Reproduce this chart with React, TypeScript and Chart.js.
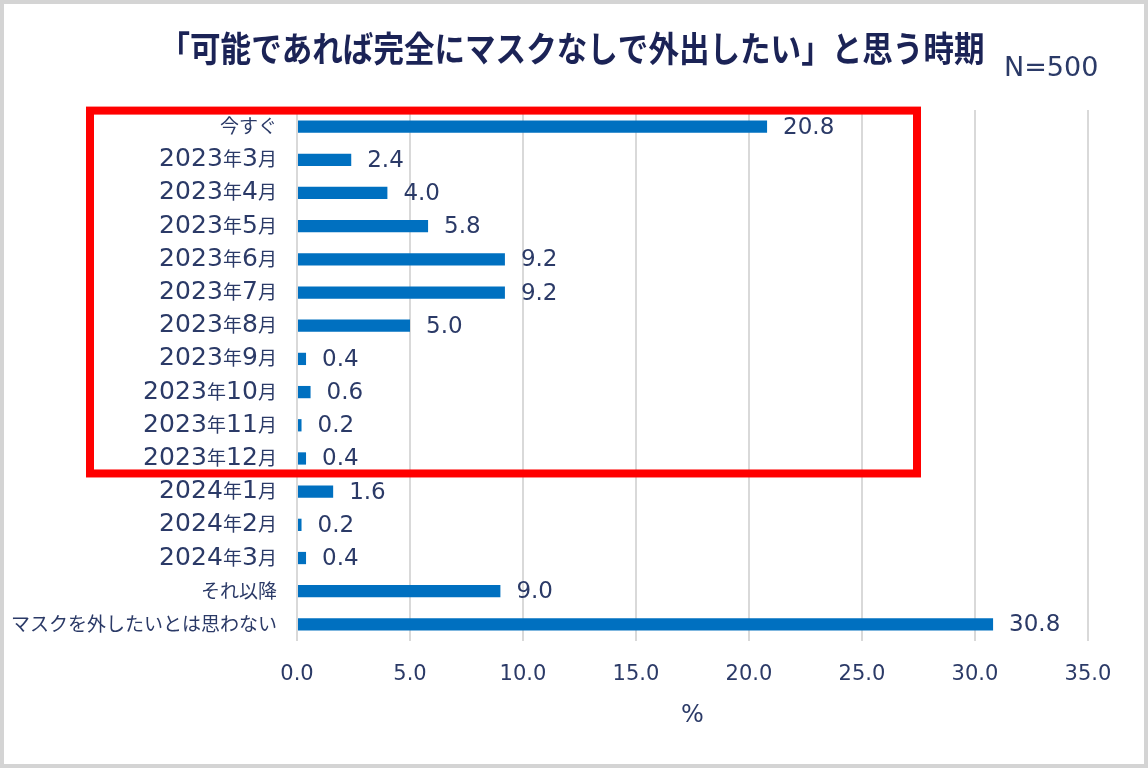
import React, { useEffect, useRef } from "react";
import { Chart, registerables } from "chart.js";

Chart.register(...registerables);

const categories = [
  "今すぐ",
  "2023年3月",
  "2023年4月",
  "2023年5月",
  "2023年6月",
  "2023年7月",
  "2023年8月",
  "2023年9月",
  "2023年10月",
  "2023年11月",
  "2023年12月",
  "2024年1月",
  "2024年2月",
  "2024年3月",
  "それ以降",
  "マスクを外したいとは思わない",
];
const values = [20.8, 2.4, 4.0, 5.8, 9.2, 9.2, 5.0, 0.4, 0.6, 0.2, 0.4, 1.6, 0.2, 0.4, 9.0, 30.8];
const xMin = 0;
const xMax = 35;
const xStep = 5;
const titleText = "「可能であれば完全にマスクなしで外出したい」と思う時期";
const sampleText = "N=500";
const axisTitle = "%";
const highlightFirst = 0;
const highlightLast = 10;

const NAVY = "#2B3A67";
const TITLE = "#1B2356";
const BAR = "#0070C0";

async function loadFonts(): Promise<string> {
  try {
    const FF: any = (window as any).FontFace;
    const face = new FF("LatinY", 'local("DejaVu Sans"), local("DejaVuSans")', { sizeAdjust: "132%" });
    await face.load();
    (document as any).fonts.add(face);
    return '"LatinY", "Noto Sans CJK JP", sans-serif';
  } catch (e) {
    return '"DejaVu Sans", "Noto Sans CJK JP", sans-serif';
  }
}

const decorPlugin = {
  id: "decor",
  beforeDraw(chart: any) {
    const ctx = chart.ctx;
    ctx.save();
    ctx.fillStyle = "#ffffff";
    ctx.fillRect(0, 0, chart.width, chart.height);
    ctx.restore();
  },
  afterDatasetsDraw(chart: any) {
    const ctx = chart.ctx;
    const meta = chart.getDatasetMeta(0);
    ctx.save();
    ctx.font = '23px "DejaVu Sans", sans-serif';
    ctx.fillStyle = NAVY;
    ctx.textAlign = "left";
    ctx.textBaseline = "middle";
    meta.data.forEach((bar: any, i: number) => {
      ctx.fillText(values[i].toFixed(1), bar.x + 16, bar.y + 1);
    });
    ctx.restore();
  },
  afterDraw(chart: any) {
    const ctx = chart.ctx;
    const y = chart.scales.y;
    ctx.save();
    // outer frame
    ctx.strokeStyle = "#d4d4d4";
    ctx.lineWidth = 4;
    ctx.strokeRect(2, 2, chart.width - 4, chart.height - 4);
    // title
    ctx.fillStyle = TITLE;
    ctx.font = 'bold 35px "Noto Sans CJK JP", sans-serif';
    ctx.textAlign = "center";
    ctx.textBaseline = "middle";
    ctx.fillText(titleText, 572, 49, 825);
    // N
    ctx.font = '27px "DejaVu Sans", sans-serif';
    ctx.textAlign = "left";
    ctx.fillStyle = NAVY;
    ctx.fillText(sampleText, 1004, 69, 97);
    // red highlight box
    const top = y.getPixelForValue(highlightFirst) - 16;
    const bottom = y.getPixelForValue(highlightLast) + 15;
    ctx.strokeStyle = "#FF0000";
    ctx.lineWidth = 8;
    ctx.lineJoin = "miter";
    ctx.strokeRect(90, top, 917 - 90, bottom - top);
    ctx.restore();
  },
};

export default function App() {
  const ref = useRef<HTMLCanvasElement | null>(null);
  useEffect(() => {
    let chart: Chart | null = null;
    let cancelled = false;
    loadFonts().then((yFont) => {
      if (cancelled || !ref.current) return;
      chart = new Chart(ref.current, {
        type: "bar",
        data: {
          labels: categories,
          datasets: [
            {
              data: values,
              backgroundColor: BAR,
              borderWidth: 0,
              barPercentage: 0.37,
              categoryPercentage: 1,
            },
          ],
        },
        options: {
          indexAxis: "y",
          responsive: false,
          animation: false,
          layout: { padding: { top: 110, right: 60, bottom: 0, left: 0 } },
          plugins: {
            legend: { display: false },
            title: { display: false },
            tooltip: { enabled: false },
          },
          scales: {
            x: {
              min: xMin,
              max: xMax,
              grid: { color: "#d9d9d9", lineWidth: 2, drawTicks: false },
              border: { display: false },
              ticks: {
                stepSize: xStep,
                padding: 21,
                color: NAVY,
                font: { family: '"DejaVu Sans", sans-serif', size: 21 },
                callback: (v: any) => Number(v).toFixed(1),
              },
              title: {
                display: true,
                text: axisTitle,
                color: NAVY,
                font: { family: '"DejaVu Sans", sans-serif', size: 24 },
                padding: { top: 0, bottom: 38 },
              },
              afterFit: (s: any) => {
                s.height = 127;
              },
            },
            y: {
              grid: { display: false, drawTicks: false },
              border: { display: false },
              ticks: {
                padding: 20,
                color: NAVY,
                autoSkip: false,
                font: { family: yFont, size: 19 },
              },
              afterFit: (s: any) => {
                s.width = 297;
              },
            },
          },
        },
        plugins: [decorPlugin],
      } as any);
    });
    return () => {
      cancelled = true;
      if (chart) chart.destroy();
    };
  }, []);
  return (
    <div style={{ position: "fixed", left: 0, top: 0, width: 1148, height: 768, background: "#fff" }}>
      <canvas ref={ref} width={1148} height={768} style={{ display: "block", width: 1148, height: 768 }} />
    </div>
  );
}
